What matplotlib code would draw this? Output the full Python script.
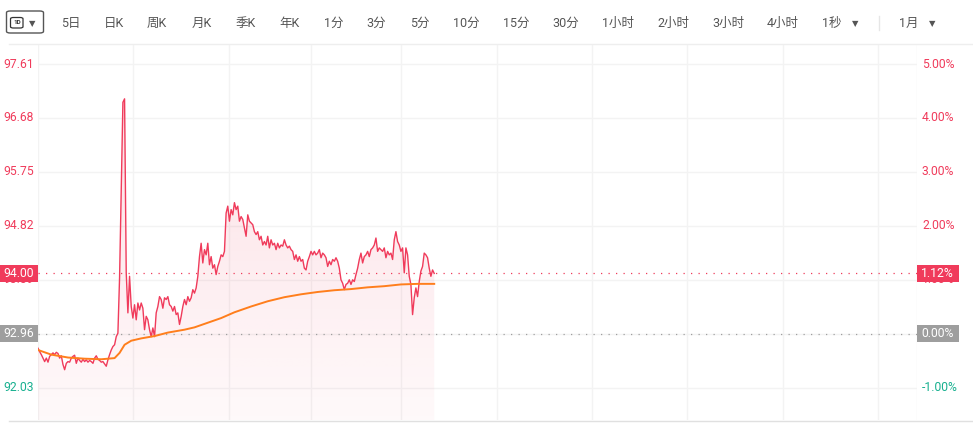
import numpy as np
import matplotlib
matplotlib.use('Agg')
import matplotlib.pyplot as plt
from matplotlib import transforms
from matplotlib.patches import Rectangle, FancyBboxPatch
from matplotlib.lines import Line2D

plt.rcParams['font.family'] = ['Roboto', 'Noto Sans CJK SC', 'DejaVu Sans']

# ---- data ----
prev_close = 92.96
pct_levels = [-1, 0, 1, 2, 3, 4, 5]
session_minutes = 528

price = [
    92.71, 92.65, 92.60, 92.54, 92.48, 92.54, 92.47, 92.57, 92.60, 92.63,
    92.60, 92.64, 92.62, 92.54, 92.58, 92.43, 92.34, 92.45, 92.48, 92.47,
    92.54, 92.57, 92.59, 92.45, 92.54, 92.50, 92.47, 92.52, 92.48, 92.51,
    92.47, 92.50, 92.48, 92.45, 92.54, 92.58, 92.52, 92.50, 92.47, 92.48,
    92.44, 92.40, 92.51,
    92.60, 92.68, 92.74, 92.77, 92.91, 92.97, 93.93, 95.40, 96.95, 97.01,
    94.01, 93.32, 93.95, 93.43, 93.23, 93.46, 93.20, 93.49, 93.37, 93.49,
    93.40, 93.03, 93.26, 93.20, 93.03, 92.91, 93.06, 92.91, 93.32, 93.43,
    93.60, 93.55, 93.40, 93.58, 93.55, 93.60, 93.46, 93.43, 93.35, 93.43,
    93.29, 93.32, 93.12, 93.26, 93.43, 93.55, 93.46, 93.60, 93.52, 93.58,
    93.72, 93.66, 93.75, 93.95, 94.29, 94.52, 94.18, 94.41, 94.32, 94.52,
    94.15, 94.29, 94.09, 94.15, 93.98, 94.12, 94.21, 94.32, 94.29, 94.38,
    95.04, 95.16, 94.90, 95.10, 95.01, 95.22, 95.10, 95.16, 94.90, 94.98,
    94.93, 94.78, 94.64, 95.01, 94.90, 94.87, 94.84, 94.72, 94.67, 94.72,
    94.58, 94.64, 94.49, 94.55, 94.49, 94.64, 94.44, 94.58, 94.49, 94.52,
    94.41, 94.52, 94.44, 94.49, 94.47, 94.58, 94.49, 94.44, 94.47, 94.41,
    94.38, 94.24, 94.32, 94.21, 94.29, 94.21, 94.24, 94.09, 94.06, 94.21,
    94.29, 94.38, 94.32, 94.38, 94.32, 94.35, 94.41, 94.27, 94.35, 94.32,
    94.27, 94.12, 94.21, 94.15, 94.24, 94.21, 94.27, 94.21, 94.09, 93.89,
    93.83, 93.72, 93.81, 93.83, 93.89, 93.81, 93.89, 93.86, 93.98, 94.09,
    94.24, 94.35, 94.18, 94.29, 94.32, 94.38, 94.29, 94.41, 94.44, 94.49,
    94.61, 94.38, 94.44, 94.41, 94.38, 94.44, 94.27, 94.38, 94.32, 94.35,
    94.24, 94.58, 94.72, 94.55, 94.49, 94.38, 94.44, 94.01, 94.44, 94.32,
    93.95, 93.81, 93.29, 93.58, 93.75, 93.60, 93.86, 94.04, 94.12, 94.35,
    94.32, 94.27, 94.09, 93.95, 94.06, 94.00,
]

avg_minutes = [0, 8, 18, 28, 38, 46, 49, 52, 56, 62, 70, 78, 88, 94, 102,
               110, 118, 128, 138, 148, 158, 168, 178, 188, 198, 208, 218, 228, 238]
avg_price = [92.68, 92.60, 92.55, 92.53, 92.52, 92.54, 92.63, 92.77, 92.84, 92.88,
             92.92, 92.98, 93.03, 93.07, 93.15, 93.23, 93.33, 93.43, 93.52, 93.59,
             93.64, 93.68, 93.71, 93.73, 93.76, 93.78, 93.81, 93.82, 93.82]

time_grid = [0, 57, 114.5, 164, 218, 275.5, 332.5, 390, 447.5, 504.5, 528]

toolbar = [('5日', 70.5), ('日K', 114), ('周K', 157), ('月K', 202), ('季K', 245.5),
           ('年K', 289.5), ('1分', 333.5), ('3分', 376.5), ('5分', 419.5), ('10分', 466),
           ('15分', 516), ('30分', 566), ('1小时', 618), ('2小时', 673), ('3小时', 728),
           ('4小时', 783), ('1秒', 832), ('1月', 909)]

# ---- colours ----
RED = '#f03b5b'
GREEN = '#17b08f'
GRAY = '#9e9e9e'
ORANGE = '#ff7e1c'
GRID = '#f3f3f3'

W, H = 973, 424
fig = plt.figure(figsize=(W / 100, H / 100), dpi=100)
ax = fig.add_axes([38 / W, 4 / H, 879 / W, 376 / H])

minutes = np.arange(len(price))
price = np.array(price)
levels = [round(prev_close * (1 + p / 100), 2) for p in pct_levels]
ylo, yhi = 91.473, 97.955

# grid
for lv in levels:
    ax.axhline(lv, color=GRID, lw=1, zorder=0)
for t in time_grid:
    ax.axvline(t, color=GRID, lw=1, zorder=0)

# gradient fill under price
poly = ax.fill_between(minutes, price, ylo, color='none', lw=0)
rgba = np.zeros((256, 1, 4))
rgba[..., :3] = matplotlib.colors.to_rgb(RED)
rgba[..., 3] = np.linspace(0.16, 0.03, 256)[:, None]
im = ax.imshow(rgba, extent=[minutes[0], minutes[-1], ylo, price.max()],
               aspect='auto', origin='upper', zorder=1)
im.set_clip_path(poly.get_paths()[0], transform=ax.transData)

ax.plot(minutes, price, color=RED, lw=1.0, zorder=3)
ax.plot(avg_minutes, avg_price, color=ORANGE, lw=1.4, zorder=4)

last = price[-1]
ax.axhline(last, color=RED, lw=0.9, ls=(0, (1, 5)), zorder=2)
ax.axhline(prev_close, color=GRAY, lw=0.9, ls=(0, (1, 5)), zorder=2)

ax.set_xlim(0, session_minutes)
ax.set_ylim(ylo, yhi)
ax.set_xticks([])
ax.set_yticks([])
for s in ax.spines.values():
    s.set_visible(False)

# frame lines
fig.add_artist(Line2D([9 / W, 1], [1 - 44 / H] * 2, color='#eeeeee', lw=1))
fig.add_artist(Line2D([9 / W, 1], [1 - 420.5 / H] * 2, color='#e0e0e0', lw=1))

# axis labels
lt = transforms.blended_transform_factory(fig.transFigure, ax.transData)
for p, lv in zip(pct_levels, levels):
    if p == 0:
        continue
    c = RED if p > 0 else GREEN
    fig.text(3 / W, lv, f'{lv:.2f}', transform=lt, ha='left', va='center',
             fontsize=8.7, color=c, zorder=3)
    fig.text(922 / W, lv, f'{p:.2f}%', transform=lt, ha='left', va='center',
             fontsize=8.7, color=c, zorder=3)

box_h = 17 / 58
for val, col in [(last, RED), (prev_close, GRAY)]:
    pct = (val / prev_close - 1) * 100
    fig.add_artist(Rectangle((0, val - box_h / 2), 37.5 / W, box_h, transform=lt,
                             facecolor=col, edgecolor='none', zorder=4))
    fig.add_artist(Rectangle((917 / W, val - box_h / 2), 42 / W, box_h, transform=lt,
                             facecolor=col, edgecolor='none', zorder=4))
    fig.text(3 / W, val, f'{val:.2f}', transform=lt, ha='left', va='center',
             fontsize=8.7, color='white', zorder=5)
    fig.text(921 / W, val, f'{pct:.2f}%', transform=lt, ha='left', va='center',
             fontsize=8.7, color='white', zorder=5)

# toolbar
def fx(x):
    return x / W

def fy(y):
    return 1 - y / H

fig.add_artist(FancyBboxPatch((fx(6.5), fy(33)), fx(37), 22 / H,
                              boxstyle='round,pad=0,rounding_size=0.004',
                              facecolor='white', edgecolor='#555555', lw=1))
fig.add_artist(FancyBboxPatch((fx(10.5), fy(28)), fx(12.5), 10.5 / H,
                              boxstyle='round,pad=0,rounding_size=0.003',
                              facecolor='white', edgecolor='#333333', lw=0.9))
fig.text(fx(16.8), fy(22.8), '1D', fontsize=4.6, fontweight='bold', color='#333333',
         ha='center', va='center')
for x in (32.5, 855, 932):
    fig.text(fx(x), fy(23.5), '▼', fontsize=6, color='#555555', ha='center', va='center',
             family='DejaVu Sans')
for label, x in toolbar:
    fig.text(fx(x), fy(23), label, fontsize=9, color='#555555', ha='center', va='center')
fig.add_artist(Line2D([fx(879)] * 2, [fy(16), fy(30)], color='#e6e6e6', lw=1))

fig.savefig('out.png', dpi=100, facecolor='white')
